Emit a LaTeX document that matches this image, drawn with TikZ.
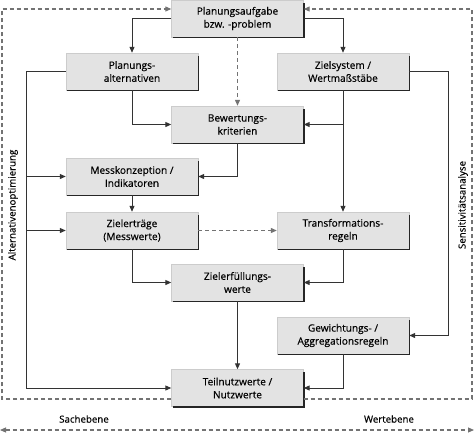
\documentclass[tikz,border=0pt]{standalone}
\usepackage{fontspec}
\setmainfont{Open Sans}[FakeBold=0.4]
\usetikzlibrary{arrows.meta,calc}
\begin{document}
\begin{tikzpicture}[x=1pt,y=-1pt,
  bx/.style={fill=black!11, draw=black!20, line width=0.4pt, minimum width=132pt, minimum height=37pt,
    inner sep=0pt, align=center, font=\fontsize{10.1}{13}\selectfont},
  shd/.style={draw=black!85, line width=1.8pt},
  con/.style={draw=black!80, line width=1pt, -{Triangle[length=6pt,width=5pt]}},
  ln/.style={draw=black!80, line width=1pt},
  dsh/.style={draw=black!55, line width=1.1pt, dash pattern=on 4pt off 3pt},
  dsha/.style={dsh, -{Triangle[length=6pt,width=5pt]}},
  lab/.style={font=\fontsize{9.7}{12}\selectfont}]
\useasboundingbox (0,0) rectangle (474,434);

\node[bx] (pa)    at (237.5,18.5) {Planungsaufgabe\\bzw. -problem};
\node[bx] (alt)   at (132,71.5)   {Planungs-\\alternativen};
\node[bx] (ziel)  at (343,71.5)   {Zielsystem /\\Wertmaßstäbe};
\node[bx] (bew)   at (237.5,124.5){Bewertungs-\\kriterien};
\node[bx] (mess)  at (132,176.5)  {Messkonzeption /\\Indikatoren};
\node[bx] (ertr)  at (132,230.5)  {Zielerträge\\(Messwerte)};
\node[bx] (trans) at (343,230.5)  {Transformations-\\regeln};
\node[bx] (erf)   at (237.5,282.5){Zielerfüllungs-\\werte};
\node[bx] (gew)   at (343,335.5)  {Gewichtungs- /\\Aggregationsregeln};
\node[bx] (nutz)  at (237.5,388)  {Teilnutzwerte /\\Nutzwerte};

\foreach \n in {pa,alt,ziel,bew,mess,ertr,trans,erf,gew,nutz}{
  \draw[shd] ($(\n.south west)+(1.5,0.3)$) -- ($(\n.south east)+(0.3,0.3)$) -- ($(\n.north east)+(0.3,3)$);
}

% solid connectors
\draw[con] (pa.west) -| (alt.north);
\draw[con] (pa.east) -| (ziel.north);
\draw[dsha] (pa.south) -- (bew.north);
\draw[con] (alt.south) |- (bew.west);
\draw[con] (ziel.south) -- (trans.north);
\draw[con] (ziel.south |- bew.east) -- (bew.east);
\draw[con] (bew.south) |- (mess.east);
\draw[con] (mess.south) -- (ertr.north);
\draw[dsha] (ertr.east) -- (trans.west);
\draw[con] (ertr.south) |- (erf.west);
\draw[con] (trans.south) |- (erf.east);
\draw[con] (erf.south) -- (nutz.north);
\draw[con] (gew.south) |- (nutz.east);

% Alternativenoptimierung
\coordinate (l1) at (26,71.5);
\coordinate (l2) at (26,388);
\draw[ln] (alt.west) -- (l1) -- (l2);
\draw[con] (l2) -- (nutz.west);
\draw[con] (l1 |- mess.west) -- (mess.west);
\draw[con] (l1 |- ertr.west) -- (ertr.west);
\node[lab, rotate=90] (altopt) at (13,205) {Alternativenoptimierung};

% Sensitivitaetsanalyse
\coordinate (r1) at (448,71.5);
\coordinate (r2) at (448,335.5);
\draw[ln] (ziel.east) -- (r1) -- (r2);
\draw[con] (r2) -- (gew.east);
\node[lab, rotate=90] (sens) at (463,205) {Sensitivitätsanalyse};

% dashed frame
\coordinate (d1) at (2,399);
\coordinate (d2) at (2,9);
\coordinate (d3) at (472,399);
\coordinate (d4) at (472,9);
\draw[dsha] ([yshift=-11pt]nutz.west) -- (d1) -- (d2) -- (d2 -| pa.west);
\draw[dsha] ([yshift=-11pt]nutz.east) -- (d3) -- (d4) -- (d4 -| pa.east);

% levels
\coordinate (b1) at (0,430);
\coordinate (b2) at (474,430);
\draw[dsh, {Triangle[length=6pt,width=5pt]}-{Triangle[length=6pt,width=5pt]}] (b1) -- (b2);
\node[lab] (sach) at (84,419) {Sachebene};
\node[lab] (wert) at (389,419) {Wertebene};
\end{tikzpicture}
\end{document}
